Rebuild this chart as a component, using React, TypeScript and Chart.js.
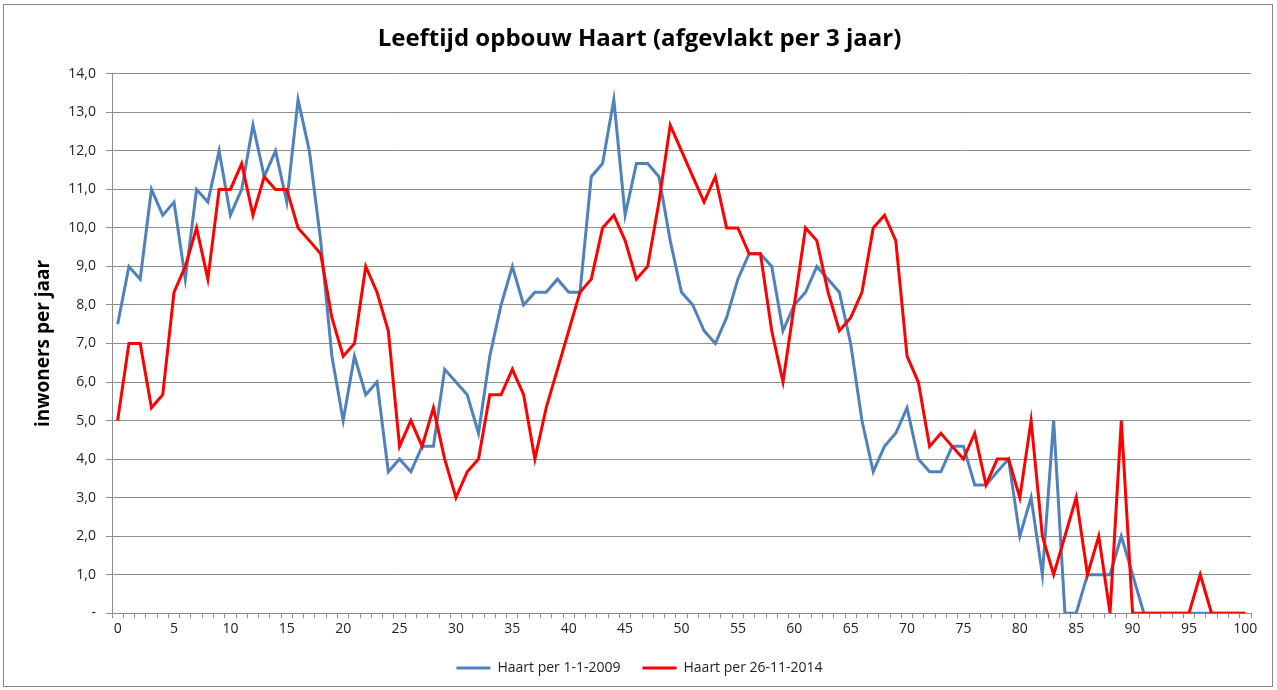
import React, { useEffect, useRef } from 'react';
import { Chart, registerables } from 'chart.js';

Chart.register(...registerables);

const ages: string[] = Array.from({ length: 101 }, (_, i) => String(i));

const haart2009: number[] = [
  7.5, 9.0, 8.67, 11.0, 10.33, 10.67, 8.67, 11.0, 10.67, 12.0,
  10.33, 11.0, 12.67, 11.33, 12.0, 10.67, 13.33, 12.0, 9.67, 6.67,
  5.0, 6.67, 5.67, 6.0, 3.67, 4.0, 3.67, 4.33, 4.33, 6.33,
  6.0, 5.67, 4.67, 6.67, 8.0, 9.0, 8.0, 8.33, 8.33, 8.67,
  8.33, 8.33, 11.33, 11.67, 13.33, 10.33, 11.67, 11.67, 11.33, 9.67,
  8.33, 8.0, 7.33, 7.0, 7.67, 8.67, 9.33, 9.33, 9.0, 7.33,
  8.0, 8.33, 9.0, 8.67, 8.33, 7.0, 5.0, 3.67, 4.33, 4.67,
  5.33, 4.0, 3.67, 3.67, 4.33, 4.33, 3.33, 3.33, 3.67, 4.0,
  2.0, 3.0, 1.0, 5.0, 0, 0, 1.0, 1.0, 1.0, 2.0,
  1.0, 0, 0, 0, 0, 0, 0, 0, 0, 0,
  0,
];

const haart2014: number[] = [
  5.0, 7.0, 7.0, 5.33, 5.67, 8.33, 9.0, 10.0, 8.67, 11.0,
  11.0, 11.67, 10.33, 11.33, 11.0, 11.0, 10.0, 9.67, 9.33, 7.67,
  6.67, 7.0, 9.0, 8.33, 7.33, 4.33, 5.0, 4.33, 5.33, 4.0,
  3.0, 3.67, 4.0, 5.67, 5.67, 6.33, 5.67, 4.0, 5.33, 6.33,
  7.33, 8.33, 8.67, 10.0, 10.33, 9.67, 8.67, 9.0, 10.67, 12.67,
  12.0, 11.33, 10.67, 11.33, 10.0, 10.0, 9.33, 9.33, 7.33, 6.0,
  8.0, 10.0, 9.67, 8.33, 7.33, 7.67, 8.33, 10.0, 10.33, 9.67,
  6.67, 6.0, 4.33, 4.67, 4.33, 4.0, 4.67, 3.33, 4.0, 4.0,
  3.0, 5.0, 2.0, 1.0, 2.0, 3.0, 1.0, 2.0, 0, 5.0,
  0, 0, 0, 0, 0, 0, 1.0, 0, 0, 0,
  0,
];

const seriesNames: string[] = ['Haart per 1-1-2009', 'Haart per 26-11-2014'];
const titleText = 'Leeftijd opbouw Haart (afgevlakt per 3 jaar)';
const yAxisTitle = 'inwoners per jaar';

const FONT = "'Open Sans', 'DejaVu Sans', sans-serif";
const BLUE = '#4F81BD';
const RED = '#FF0000';
const GRID = '#8e8e8e';

export default function App() {
  const ref = useRef<HTMLCanvasElement>(null);

  useEffect(() => {
    document.body.style.margin = '0';
    const canvas = ref.current;
    if (!canvas) return;
    const chart = new Chart(canvas, {
      type: 'line',
      data: {
        labels: ages,
        datasets: [
          {
            label: seriesNames[0],
            data: haart2009,
            borderColor: BLUE,
            backgroundColor: BLUE,
            borderWidth: 3,
            pointRadius: 0,
            tension: 0,
            order: 1,
          },
          {
            label: seriesNames[1],
            data: haart2014,
            borderColor: RED,
            backgroundColor: RED,
            borderWidth: 3,
            pointRadius: 0,
            tension: 0,
            order: 0,
          },
        ],
      },
      options: {
        responsive: false,
        animation: false,
        layout: { padding: { left: 28, right: 26, top: 8, bottom: 5 } },
        plugins: {
          title: {
            display: true,
            text: titleText,
            color: '#000',
            font: { family: FONT, size: 24, weight: 'bold' },
            padding: { top: 17, bottom: 20 },
          },
          legend: {
            position: 'bottom',
            labels: {
              color: '#222',
              font: { family: FONT, size: 14 },
              usePointStyle: true,
              pointStyle: 'line',
              pointStyleWidth: 34,
              padding: 22,
              sort: (a: any, b: any) => a.datasetIndex - b.datasetIndex,
            },
          },
          tooltip: { enabled: false },
        },
        scales: {
          x: {
            offset: true,
            grid: {
              display: true,
              drawOnChartArea: false,
              drawTicks: true,
              tickLength: 5,
              offset: true,
              color: GRID,
            },
            border: { color: GRID },
            ticks: {
              autoSkip: false,
              maxRotation: 0,
              minRotation: 0,
              padding: 2,
              color: '#222',
              font: { family: FONT, size: 14 },
              callback: (_v: any, i: number) => (i % 5 === 0 ? ages[i] : ''),
            },
          },
          y: {
            min: 0,
            max: 14,
            grid: { color: GRID, tickLength: 6 },
            border: { color: GRID },
            ticks: {
              stepSize: 1,
              padding: 10,
              color: '#222',
              font: { family: FONT, size: 14 },
              callback: (v: any) => (Number(v) === 0 ? '-' : Number(v).toFixed(1).replace('.', ',')),
            },
            title: {
              display: true,
              text: yAxisTitle,
              color: '#000',
              font: { family: FONT, size: 19, weight: 'bold' },
              padding: { top: 4, bottom: 4 },
            },
            afterFit: (scale: any) => {
              scale.width = 84;
            },
          },
        },
      },
    });
    return () => chart.destroy();
  }, []);

  return (
    <div style={{ position: 'relative', width: 1277, height: 690, background: '#fff' }}>
      <div
        style={{
          position: 'absolute',
          left: 3,
          top: 4,
          width: 1270,
          height: 683,
          border: '1px solid #8a8a8a',
          boxSizing: 'border-box',
        }}
      />
      <canvas ref={ref} width={1277} height={690} style={{ position: 'absolute', left: 0, top: 0 }} />
    </div>
  );
}
